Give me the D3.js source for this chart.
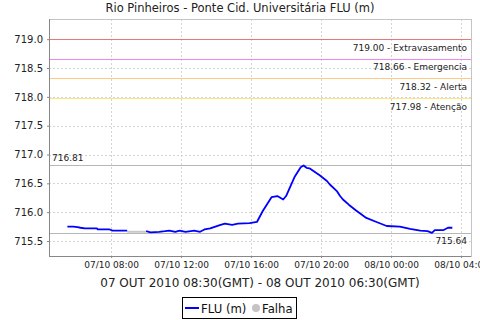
<!DOCTYPE html>
<html>
<head>
<meta charset="utf-8">
<script src="https://cdn.jsdelivr.net/npm/d3@7"></script>
<style>
  body { margin: 0; background: #fff; }
  svg { display: block; font-family: "DejaVu Sans", sans-serif; }
</style>
</head>
<body>
<script>
// leituras FLU (m), hora local
var tempos = [
  "2010-10-07 05:30", "2010-10-07 05:50", "2010-10-07 06:05", "2010-10-07 06:15",
  "2010-10-07 06:30", "2010-10-07 07:10", "2010-10-07 07:15", "2010-10-07 07:55",
  "2010-10-07 08:05", "2010-10-07 08:55",
  "2010-10-07 10:00", "2010-10-07 10:15", "2010-10-07 10:45", "2010-10-07 11:05",
  "2010-10-07 11:20", "2010-10-07 11:40", "2010-10-07 11:55", "2010-10-07 12:15",
  "2010-10-07 12:45", "2010-10-07 13:05", "2010-10-07 13:20", "2010-10-07 13:40",
  "2010-10-07 14:10", "2010-10-07 14:30", "2010-10-07 14:55", "2010-10-07 15:15",
  "2010-10-07 15:55", "2010-10-07 16:20", "2010-10-07 16:40", "2010-10-07 17:10",
  "2010-10-07 17:30", "2010-10-07 17:50", "2010-10-07 18:00", "2010-10-07 18:20",
  "2010-10-07 18:30", "2010-10-07 18:50", "2010-10-07 19:00", "2010-10-07 19:10",
  "2010-10-07 19:20", "2010-10-07 19:55", "2010-10-07 20:20", "2010-10-07 20:30",
  "2010-10-07 20:55", "2010-10-07 21:05", "2010-10-07 21:15", "2010-10-07 21:35",
  "2010-10-07 22:00", "2010-10-07 22:35", "2010-10-07 23:10", "2010-10-07 23:45",
  "2010-10-08 00:30", "2010-10-08 01:05", "2010-10-08 01:40", "2010-10-08 02:05",
  "2010-10-08 02:20", "2010-10-08 02:30", "2010-10-08 03:00", "2010-10-08 03:15",
  "2010-10-08 03:30"
];
var nivel = [
  715.75, 715.75, 715.74, 715.73,
  715.72, 715.72, 715.70, 715.70,
  715.68, 715.68,
  715.67, 715.65, 715.66, 715.67,
  715.68, 715.66, 715.68, 715.66,
  715.68, 715.66, 715.70, 715.72,
  715.77, 715.80, 715.78, 715.80,
  715.81, 715.83, 716.02, 716.26,
  716.28, 716.22, 716.28, 716.51,
  716.62, 716.78, 716.81, 716.77,
  716.76, 716.64, 716.54, 716.48,
  716.36, 716.28, 716.22, 716.13,
  716.03, 715.90, 715.83, 715.76,
  715.75, 715.71, 715.68, 715.67,
  715.64, 715.69, 715.69, 715.73,
  715.73
];
// trecho sem leitura
var falhaTempos = ["2010-10-07 08:55", "2010-10-07 10:00"];
var falhaNivel = [715.66, 715.66];

// cotas de referencia
var cotaValores = [719.00, 718.66, 718.32, 717.98];
var cotaNomes = ["Extravasamento", "Emergencia", "Alerta", "Atenção"];
var maxMin = [716.81, 715.64];

var yTicks = [715.5, 716.0, 716.5, 717.0, 717.5, 718.0, 718.5, 719.0];
var dominioX = ["2010-10-07 04:27", "2010-10-08 04:34"];
var dominioY = [715.24, 719.35];

var titulo = "Rio Pinheiros - Ponte Cid. Universitária FLU (m)";
var rotuloX = "07 OUT 2010 08:30(GMT) - 08 OUT 2010 06:30(GMT)";
var legenda = ["FLU (m)", "Falha"];

var corCota = {
  "Extravasamento": "#e87878",
  "Emergencia": "#ee88ee",
  "Alerta": "#ffc880",
  "Atenção": "#ffe680"
};

var w = 480, h = 320;
var m = {top: 19, right: 9, bottom: 64, left: 49};
var pw = w - m.left - m.right, ph = h - m.top - m.bottom;

var parse = d3.utcParse("%Y-%m-%d %H:%M");
var fmt = d3.utcFormat("%d/%m %H:%M");

var serie = tempos.map((t, i) => ({t: parse(t), v: nivel[i]}));
var falha = falhaTempos.map((t, i) => ({t: parse(t), v: falhaNivel[i]}));

var x = d3.scaleUtc().domain(dominioX.map(parse)).range([0, pw]);
var y = d3.scaleLinear().domain(dominioY).range([ph, 0]);

var svg = d3.select("body").append("svg")
  .attr("width", w)
  .attr("height", h);

svg.append("text")
  .attr("x", w / 2)
  .attr("y", 12)
  .attr("text-anchor", "middle")
  .style("font-size", "11.5px")
  .attr("fill", "#222")
  .text(titulo);

var g = svg.append("g").attr("transform", "translate(" + m.left + "," + m.top + ")");

var xTicks = x.ticks(d3.utcHour.every(4));

// grade
g.append("g").selectAll("line")
  .data(yTicks)
  .join("line")
  .attr("x1", 0).attr("x2", pw)
  .attr("y1", d => Math.round(y(d)) + 0.5)
  .attr("y2", d => Math.round(y(d)) + 0.5)
  .attr("stroke", "#d4d4d4")
  .attr("stroke-dasharray", "2,2");

g.append("g").selectAll("line")
  .data(xTicks)
  .join("line")
  .attr("x1", d => Math.round(x(d)) + 0.5)
  .attr("x2", d => Math.round(x(d)) + 0.5)
  .attr("y1", 0).attr("y2", ph)
  .attr("stroke", "#d4d4d4")
  .attr("stroke-dasharray", "2,2");

// contorno
g.append("rect")
  .attr("x", 0.5).attr("y", 0.5)
  .attr("width", pw).attr("height", ph)
  .attr("fill", "none")
  .attr("stroke", "#c4c4c4");

// cotas
g.append("g").selectAll("line")
  .data(cotaValores)
  .join("line")
  .attr("x1", 0).attr("x2", pw)
  .attr("y1", d => Math.round(y(d)) + 0.5)
  .attr("y2", d => Math.round(y(d)) + 0.5)
  .attr("stroke", (d, i) => corCota[cotaNomes[i]]);

g.append("g").selectAll("text")
  .data(cotaValores)
  .join("text")
  .attr("x", pw - 4)
  .attr("y", d => y(d) + 11.5)
  .attr("text-anchor", "end")
  .style("font-size", "9px")
  .attr("fill", "#222")
  .text((d, i) => d.toFixed(2) + " - " + cotaNomes[i]);

// maximo e minimo
g.append("g").selectAll("line")
  .data(maxMin)
  .join("line")
  .attr("x1", 0).attr("x2", pw)
  .attr("y1", d => Math.round(y(d)) + 0.5)
  .attr("y2", d => Math.round(y(d)) + 0.5)
  .attr("stroke", "#b8b8b8");

g.append("text")
  .attr("x", 3)
  .attr("y", y(maxMin[0]) - 4.5)
  .style("font-size", "9px")
  .attr("fill", "#222")
  .text(maxMin[0].toFixed(2));

g.append("text")
  .attr("x", pw - 4)
  .attr("y", y(maxMin[1]) + 11.5)
  .attr("text-anchor", "end")
  .style("font-size", "9px")
  .attr("fill", "#222")
  .text(maxMin[1].toFixed(2));

// linhas
var linha = d3.line().x(d => x(d.t)).y(d => y(d.v));

g.append("path")
  .datum(falha)
  .attr("d", linha)
  .attr("fill", "none")
  .attr("stroke", "#c8c8c8")
  .attr("stroke-width", 2);

var antes = serie.filter(d => d.t <= falha[0].t);
var depois = serie.filter(d => d.t >= falha[1].t);
[antes, depois].forEach(function(parte) {
  g.append("path")
    .datum(parte)
    .attr("d", linha)
    .attr("fill", "none")
    .attr("stroke", "#0000ff")
    .attr("stroke-width", 1.8)
    .attr("stroke-linejoin", "round");
});

// eixos
var yAxis = d3.axisLeft(y).tickValues(yTicks).tickFormat(d3.format(".1f")).tickSize(2).tickPadding(4);
var gy = g.append("g").call(yAxis);
gy.select(".domain").remove();
gy.selectAll("line").attr("stroke", "#888");
gy.selectAll("text").style("font-size", "10px").attr("fill", "#222").attr("font-family", "DejaVu Sans");

var xAxis = d3.axisBottom(x).tickValues(xTicks).tickFormat(fmt).tickSize(2).tickPadding(4);
var gx = g.append("g").attr("transform", "translate(0," + ph + ")").call(xAxis);
gx.select(".domain").remove();
gx.selectAll("line").attr("stroke", "#888");
gx.selectAll("text").style("font-size", "9px").attr("fill", "#222").attr("font-family", "DejaVu Sans");

g.append("line")
  .attr("x1", 0.5).attr("x2", 0.5)
  .attr("y1", 0).attr("y2", ph + 0.5)
  .attr("stroke", "#888");
g.append("line")
  .attr("x1", 0).attr("x2", pw)
  .attr("y1", ph + 0.5).attr("y2", ph + 0.5)
  .attr("stroke", "#888");

g.append("text")
  .attr("x", pw / 2)
  .attr("y", ph + 31)
  .attr("text-anchor", "middle")
  .style("font-size", "12px")
  .attr("fill", "#222")
  .text(rotuloX);

// legenda
var lg = svg.append("g").attr("transform", "translate(182,297)");
lg.append("rect")
  .attr("x", 0.5).attr("y", 0.5)
  .attr("width", 114).attr("height", 21)
  .attr("fill", "#fff")
  .attr("stroke", "#000");
lg.append("line")
  .attr("x1", 3).attr("x2", 17)
  .attr("y1", 11).attr("y2", 11)
  .attr("stroke", "#0000ff")
  .attr("stroke-width", 2);
lg.append("text")
  .attr("x", 19).attr("y", 15.5)
  .style("font-size", "11.7px")
  .attr("fill", "#111")
  .text(legenda[0]);
lg.append("circle")
  .attr("cx", 74).attr("cy", 11)
  .attr("r", 4)
  .attr("fill", "#c4c4c4");
lg.append("text")
  .attr("x", 80).attr("y", 15.5)
  .style("font-size", "11.7px")
  .attr("fill", "#111")
  .text(legenda[1]);
</script>
</body>
</html>
